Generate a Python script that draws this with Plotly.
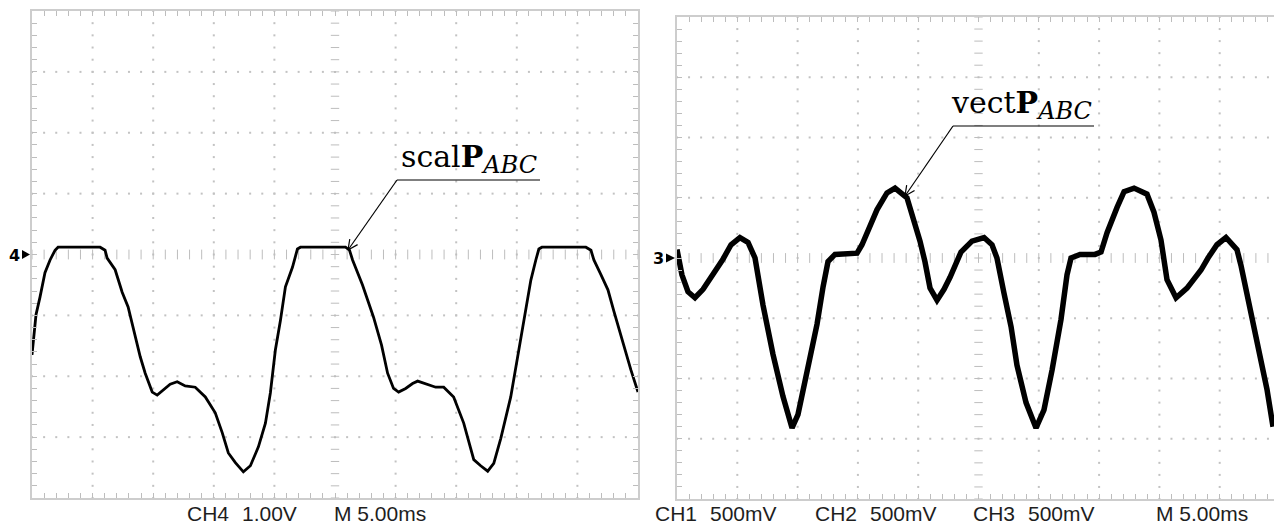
import math
import numpy as np
import plotly.graph_objects as go

W, H = 1274, 524

# ---------------- data (time in ms, value in V relative to channel marker) ----------------
t_scal = [0, 0.17, 0.33, 0.66, 1.07, 1.49, 1.90, 2.15, 3.14, 4.79,
          5.62, 6.03, 6.20, 6.86, 7.44, 7.93, 8.51, 8.93, 9.34, 9.92,
          10.33, 10.83, 11.40, 11.98, 12.64, 13.47, 14.30, 15.12, 15.70, 16.20,
          16.78, 17.44, 18.02, 18.68, 19.26, 19.67, 20.08, 20.50, 20.91, 21.49,
          21.90, 22.15, 23.80, 25.87, 26.20, 26.45, 27.27, 28.18, 28.84, 29.34,
          29.83, 30.25, 30.83, 31.40, 31.82, 32.48, 33.31, 33.97, 34.79, 35.62,
          36.45, 37.02, 37.60, 38.10, 38.68, 39.50, 40.33, 41.16, 41.57, 41.82,
          42.07, 43.64, 45.70, 46.12, 46.36, 46.94, 47.52, 48.02, 48.60, 49.42,
          50.0]
v_scal = [-1.65, -1.32, -0.99, -0.70, -0.30, -0.09, 0.07, 0.12, 0.12, 0.12,
          0.12, 0.07, -0.06, -0.25, -0.62, -0.86, -1.32, -1.68, -1.95, -2.26,
          -2.31, -2.22, -2.13, -2.09, -2.16, -2.18, -2.34, -2.60, -2.93, -3.26,
          -3.42, -3.57, -3.47, -3.16, -2.77, -2.27, -1.57, -1.08, -0.53, -0.21,
          0.09, 0.12, 0.12, 0.12, 0.07, -0.09, -0.50, -1.03, -1.49, -1.95,
          -2.20, -2.26, -2.20, -2.12, -2.08, -2.13, -2.18, -2.18, -2.34, -2.77,
          -3.37, -3.47, -3.56, -3.43, -3.02, -2.34, -1.40, -0.42, -0.09, 0.09,
          0.12, 0.12, 0.12, 0.07, -0.09, -0.33, -0.58, -0.94, -1.35, -1.90,
          -2.26]

t_vect = [0, 0.41, 0.91, 1.49, 2.16, 2.99, 3.81, 4.48, 5.22, 5.89,
          6.47, 7.13, 7.96, 8.79, 9.54, 10.03, 10.45, 11.03, 11.61, 12.11,
          12.52, 13.10, 13.93, 14.93, 15.34, 15.76, 16.58, 17.41, 18.08, 19.07,
          19.57, 20.15, 20.56, 20.98, 21.56, 22.14, 22.64, 23.13, 23.55, 24.46,
          25.46, 26.12, 26.53, 27.11, 27.70, 28.19, 28.94, 29.77, 30.43, 31.10,
          31.84, 32.34, 32.67, 33.42, 34.66, 35.16, 35.66, 36.49, 37.07, 37.90,
          38.97, 39.55, 40.13, 40.63, 41.38, 42.29, 43.45, 44.03, 44.77, 45.52,
          46.43, 46.76, 47.26, 47.84, 48.42, 48.92, 49.42]
v_vect = [0.07, -0.14, -0.28, -0.33, -0.26, -0.14, -0.01, 0.11, 0.17, 0.13,
          0.00, -0.39, -0.80, -1.15, -1.41, -1.30, -1.09, -0.84, -0.55, -0.24,
          -0.03, 0.03, 0.03, 0.04, 0.11, 0.21, 0.40, 0.54, 0.58, 0.50,
          0.34, 0.14, -0.03, -0.25, -0.35, -0.26, -0.16, -0.03, 0.05, 0.14,
          0.17, 0.11, 0.00, -0.29, -0.57, -0.89, -1.20, -1.41, -1.26, -0.93,
          -0.51, -0.14, 0.00, 0.03, 0.03, 0.05, 0.21, 0.42, 0.55, 0.58,
          0.53, 0.38, 0.15, -0.18, -0.33, -0.25, -0.10, 0.00, 0.11, 0.17,
          0.07, -0.06, -0.29, -0.60, -0.82, -1.09, -1.40]

left_labels = [("CH4", 185), ("1.00V", 240), ("M 5.00ms", 332)]
right_labels = [("CH1", 653), ("500mV", 708), ("CH2", 813), ("500mV", 868),
                ("CH3", 971), ("500mV", 1026), ("M 5.00ms", 1154)]

# scope settings
ms_per_div = 5.0
left_v_per_div = 1.0
right_v_per_div = 0.5

GRID = "#c2c2c2"
TICK = "#bdbdbd"
BORDER = "#cdcdcd"


def px(x):
    return x / W


def py(y):
    return 1 - y / H


fig = go.Figure()


def add_graticule(xa, ya, xmax, vdiv):
    xs_ref = "x" if xa == 1 else "x2"
    ys_ref = "y" if ya == 1 else "y2"
    minor_x = np.arange(0, xmax + 1e-6, ms_per_div / 5)
    minor_y = np.arange(-4 * vdiv, 4 * vdiv + 1e-6, vdiv / 5)
    gx, gy = [], []
    for k in range(1, 10):
        xv = k * ms_per_div
        if k == 5 or xv > xmax:
            continue
        gx += [xv] * len(minor_y)
        gy += list(minor_y)
    for k in range(-3, 4):
        if k == 0:
            continue
        gx += list(minor_x)
        gy += [k * vdiv] * len(minor_x)
    fig.add_trace(go.Scatter(x=gx, y=gy, mode="markers", xaxis=xs_ref, yaxis=ys_ref,
                             marker=dict(symbol="square", size=2, color=GRID, line_width=0),
                             hoverinfo="skip", showlegend=False))
    fig.add_trace(go.Scatter(x=list(minor_x), y=[0] * len(minor_x), mode="markers",
                             xaxis=xs_ref, yaxis=ys_ref,
                             marker=dict(symbol="line-ns", size=7, line=dict(color=TICK, width=1)),
                             hoverinfo="skip", showlegend=False))
    fig.add_trace(go.Scatter(x=[5 * ms_per_div] * len(minor_y), y=list(minor_y), mode="markers",
                             xaxis=xs_ref, yaxis=ys_ref,
                             marker=dict(symbol="line-ew", size=6, line=dict(color=TICK, width=1)),
                             hoverinfo="skip", showlegend=False))


add_graticule(1, 1, 50, left_v_per_div)
right_xmax = (W - 677) / 60.3 * ms_per_div
add_graticule(2, 2, right_xmax, right_v_per_div)

fig.add_trace(go.Scatter(x=t_scal, y=v_scal, mode="lines", xaxis="x", yaxis="y",
                         line=dict(color="black", width=2.8), showlegend=False))
fig.add_trace(go.Scatter(x=t_vect, y=v_vect, mode="lines", xaxis="x2", yaxis="y2",
                         line=dict(color="black", width=5.5), showlegend=False))

axis_common = dict(showgrid=False, zeroline=False, showticklabels=False, showline=True,
                   linecolor=BORDER, linewidth=2, ticks="inside", ticklen=5,
                   tickcolor=TICK, tickwidth=1)

fig.update_layout(
    width=W, height=H, margin=dict(l=0, r=0, t=0, b=0),
    paper_bgcolor="white", plot_bgcolor="white",
    xaxis=dict(domain=[px(32), px(638)], range=[0, 50], tick0=0, dtick=ms_per_div / 5,
               mirror="ticks", anchor="y", **axis_common),
    yaxis=dict(domain=[py(498), py(11)], range=[-4, 4], tick0=0, dtick=left_v_per_div / 5,
               mirror="ticks", anchor="x", **axis_common),
    xaxis2=dict(domain=[px(677), 1.0], range=[0, right_xmax], tick0=0, dtick=ms_per_div / 5,
                mirror="ticks", anchor="y2", **axis_common),
    yaxis2=dict(domain=[py(499), py(17)], range=[-2, 2], tick0=0, dtick=right_v_per_div / 5,
                mirror=False, anchor="x2", **axis_common),
)

annotations = []
annotations.append(dict(text="<b>4</b>", x=px(7), y=py(255), xref="paper", yref="paper",
                        xanchor="left", showarrow=False,
                        font=dict(family="DejaVu Sans", size=16, color="black")))
annotations.append(dict(text="<b>3</b>", x=px(651), y=py(258), xref="paper", yref="paper",
                        xanchor="left", showarrow=False,
                        font=dict(family="DejaVu Sans", size=16, color="black")))

for txt, x0 in left_labels + right_labels:
    annotations.append(dict(text=txt, x=px(x0), y=py(513), xref="paper", yref="paper",
                            xanchor="left", yanchor="middle", showarrow=False,
                            font=dict(family="Liberation Sans", size=21, color="#1e1e1e")))

sub = '<sub><i><span style="font-size:24px">ABC</span></i></sub>'
annotations.append(dict(text="scal<b>P</b>" + sub, x=px(399), y=py(181),
                        xref="paper", yref="paper", xanchor="left", yanchor="bottom",
                        showarrow=False,
                        font=dict(family="DejaVu Serif", size=30, color="black")))
annotations.append(dict(text="vect<b>P</b>" + sub, x=px(949), y=py(127),
                        xref="paper", yref="paper", xanchor="left", yanchor="bottom",
                        showarrow=False,
                        font=dict(family="DejaVu Serif", size=30, color="black")))
fig.update_layout(annotations=annotations)


def leader(tip, elbow, end):
    """Underline + diagonal leader with an open V arrowhead (pixel coordinates)."""
    line = dict(color="black", width=1.2)
    fig.add_shape(type="line", xref="paper", yref="paper",
                  x0=px(elbow[0]), x1=px(end), y0=py(elbow[1]), y1=py(elbow[1]), line=line)
    fig.add_shape(type="line", xref="paper", yref="paper",
                  x0=px(elbow[0]), x1=px(tip[0]), y0=py(elbow[1]), y1=py(tip[1]), line=line)
    ang = math.atan2(elbow[1] - tip[1], elbow[0] - tip[0])
    for d in (0.45, -0.45):
        ex = tip[0] + 11 * math.cos(ang + d)
        ey = tip[1] + 11 * math.sin(ang + d)
        fig.add_shape(type="line", xref="paper", yref="paper",
                      x0=px(tip[0]), x1=px(ex), y0=py(tip[1]), y1=py(ey), line=line)


leader((348, 250), (397, 180), 540)
leader((905, 196), (953, 126), 1094)

for (xa, xb, yc) in [(22, 30, 254.5), (666, 675, 258)]:
    fig.add_shape(type="path", xref="paper", yref="paper",
                  path=f"M {px(xa)} {py(yc - 4.5)} L {px(xa)} {py(yc + 4.5)} L {px(xb)} {py(yc)} Z",
                  fillcolor="black", line=dict(color="black", width=0))

fig.write_html("out.html")
